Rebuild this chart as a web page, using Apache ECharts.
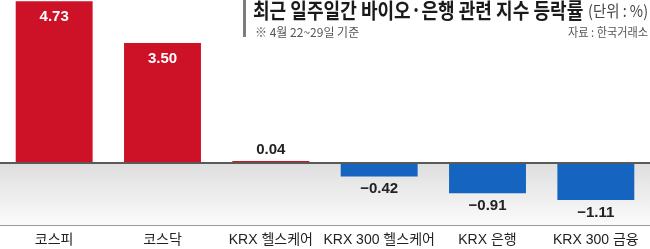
<!DOCTYPE html>
<html>
<head>
<meta charset="utf-8">
<script src="https://cdn.jsdelivr.net/npm/echarts@6/dist/echarts.min.js"></script>
<style>
html,body{margin:0;padding:0;background:#fff;}
#chart{width:650px;height:249px;}
</style>
</head>
<body>
<div id="chart"></div>
<script>
const categories = ['코스피', '코스닥', 'KRX 헬스케어', 'KRX 300 헬스케어', 'KRX 은행', 'KRX 300 금융'];
const values = [4.73, 3.50, 0.04, -0.42, -0.91, -1.11];
const titleText = '최근 일주일간 바이오·은행 관련 지수 등락률';
const unitText = '(단위 : %)';
const noteText = '※ 4월 22~29일 기준';
const sourceText = '자료 : 한국거래소';

const Y_MIN = -1.841, Y_MAX = 4.766;
const RED = '#cd1126', BLUE = '#1565c0';
const FONT = "'Liberation Sans', 'Noto Sans CJK KR', sans-serif";

const chart = echarts.init(document.getElementById('chart'));

const barData = values.map(function (v) {
  let label;
  if (v > 1) {
    label = { position: 'insideTop', distance: 8, color: '#ffffff' };
  } else if (v >= 0) {
    label = { position: 'top', distance: 4, color: '#222' };
  } else {
    label = { position: 'bottom', distance: 5, color: '#222' };
  }
  return { value: v, itemStyle: { color: v >= 0 ? RED : BLUE }, label: label };
});

chart.setOption({
  animation: false,
  grid: { left: 0, right: 0, top: 0, bottom: 24, containLabel: false },
  xAxis: {
    type: 'category',
    data: categories,
    axisLine: { onZero: false, lineStyle: { color: '#9a9a9a', width: 1 } },
    axisTick: { inside: true, length: 4, lineStyle: { color: '#777' } },
    axisLabel: { interval: 0, margin: 8, fontSize: 14, color: '#222', fontFamily: FONT }
  },
  yAxis: {
    type: 'value', min: Y_MIN, max: Y_MAX, show: false,
    splitLine: { show: false }
  },
  series: [{
    type: 'bar',
    data: barData,
    barWidth: '71%',
    label: {
      show: true,
      fontSize: 15,
      fontWeight: 'bold',
      fontFamily: FONT,
      formatter: function (p) {
        const v = p.value;
        return (v < 0 ? '\u2212' : '') + Math.abs(v).toFixed(2);
      }
    },
    markArea: {
      silent: true,
      itemStyle: {
        color: new echarts.graphic.LinearGradient(0, 0, 0, 1, [
          { offset: 0, color: '#dedede' },
          { offset: 1, color: '#fbfbfb' }
        ])
      },
      data: [[{ yAxis: 0 }, { yAxis: Y_MIN }]]
    },
    markLine: {
      silent: true,
      symbol: ['none', 'none'],
      label: { show: false },
      lineStyle: { color: '#5a5a5a', width: 2, type: 'solid' },
      data: [{ yAxis: 0 }]
    }
  }],
  graphic: [
    { type: 'rect', shape: { x: 243, y: 0, width: 3, height: 37 }, style: { fill: '#7d7d7d' } },
    { type: 'text', x: 253, y: 10, scaleX: 0.86,
      style: { text: titleText, font: "bold 21px 'Noto Sans CJK KR', sans-serif", fill: '#1a1a1a',
               textAlign: 'left', align: 'left', textVerticalAlign: 'middle', verticalAlign: 'middle' } },
    { type: 'text', x: 648, y: 11, scaleX: 0.9,
      style: { text: unitText, font: "16px 'Noto Sans CJK KR', sans-serif", fill: '#444',
               textAlign: 'right', align: 'right', textVerticalAlign: 'middle', verticalAlign: 'middle' } },
    { type: 'text', x: 255, y: 32, scaleX: 1,
      style: { text: noteText, font: "12px 'Noto Sans CJK KR', sans-serif", fill: '#555',
               textAlign: 'left', align: 'left', textVerticalAlign: 'middle', verticalAlign: 'middle' } },
    { type: 'text', x: 648, y: 32, scaleX: 0.93,
      style: { text: sourceText, font: "12px 'Noto Sans CJK KR', sans-serif", fill: '#555',
               textAlign: 'right', align: 'right', textVerticalAlign: 'middle', verticalAlign: 'middle' } }
  ]
});
</script>
</body>
</html>
